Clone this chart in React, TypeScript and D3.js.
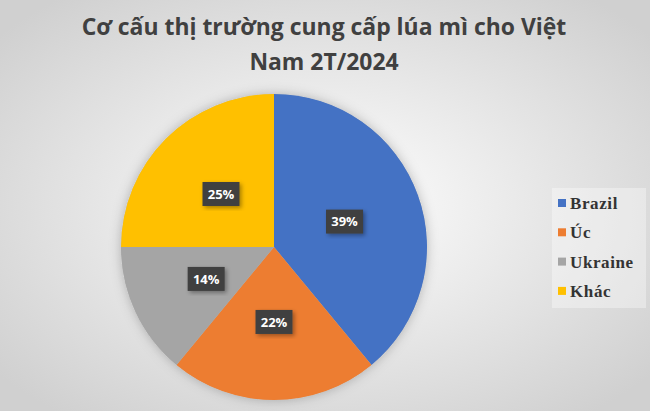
import { useEffect, useRef } from "react";
import * as d3 from "d3";

const categories = ["Brazil", "Úc", "Ukraine", "Khác"];
const shares = [39, 22, 14, 25];
const colors = ["#4472C4", "#ED7D31", "#A5A5A5", "#FFC000"];
const titleLines = ["Cơ cấu thị trường cung cấp lúa mì cho Việt", "Nam 2T/2024"];

const width = 650;
const height = 411;

function App() {
  const ref = useRef<SVGSVGElement>(null);

  useEffect(() => {
    const svg = d3.select(ref.current);
    svg.selectAll("*").remove();

    const defs = svg.append("defs");
    const bg = defs
      .append("radialGradient")
      .attr("id", "bg")
      .attr("cx", "50%")
      .attr("cy", "50%")
      .attr("r", "65%");
    bg.append("stop").attr("offset", "0%").attr("stop-color", "#ffffff");
    bg.append("stop").attr("offset", "100%").attr("stop-color", "#d0d0d0");

    const shadow = defs.append("filter").attr("id", "shadow").attr("x", "-20%").attr("y", "-20%").attr("width", "140%").attr("height", "140%");
    shadow.append("feDropShadow").attr("dx", 2).attr("dy", 2).attr("stdDeviation", 2).attr("flood-color", "#000").attr("flood-opacity", 0.35);

    const glow = defs.append("filter").attr("id", "glow").attr("x", "-20%").attr("y", "-20%").attr("width", "140%").attr("height", "140%");
    glow.append("feDropShadow").attr("dx", 0).attr("dy", 0).attr("stdDeviation", 6).attr("flood-color", "#000").attr("flood-opacity", 0.25);

    svg.append("rect").attr("width", width).attr("height", height).attr("fill", "url(#bg)");

    // title, sized so the first line spans about 485px like the original
    const title = svg
      .append("g")
      .selectAll("text")
      .data(titleLines)
      .enter()
      .append("text")
      .attr("x", 324)
      .attr("y", (_, i) => 35 + i * 35)
      .attr("text-anchor", "middle")
      .attr("font-family", "'Open Sans', Lato, sans-serif")
      .attr("font-weight", "bold")
      .attr("font-size", 22)
      .attr("fill", "#404040")
      .text((d) => d);
    const first = title.node() as SVGTextElement | null;
    if (first) {
      const w = first.getComputedTextLength();
      if (w > 0) title.attr("font-size", 22 * (485 / w));
    }

    const cx = 274;
    const cy = 247;
    const radius = 153;

    const pie = d3.pie<number>().sort(null).value((d) => d);
    const arcs = pie(shares);
    const arc = d3.arc<d3.PieArcDatum<number>>().innerRadius(0).outerRadius(radius);
    const labelArc = d3.arc<d3.PieArcDatum<number>>().innerRadius(radius * 0.49).outerRadius(radius * 0.49);

    const g = svg.append("g").attr("transform", `translate(${cx},${cy})`);
    g.append("circle").attr("r", radius).attr("fill", "#bbb").attr("filter", "url(#glow)");
    g.selectAll("path")
      .data(arcs)
      .enter()
      .append("path")
      .attr("d", arc)
      .attr("fill", (_, i) => colors[i]);

    const labels = g
      .selectAll("g.lbl")
      .data(arcs)
      .enter()
      .append("g")
      .attr("class", "lbl")
      .attr("transform", (d) => `translate(${labelArc.centroid(d)})`);
    labels
      .append("rect")
      .attr("x", -18.5)
      .attr("y", -12)
      .attr("width", 37)
      .attr("height", 24)
      .attr("fill", "#404040")
      .attr("filter", "url(#shadow)");
    labels
      .append("text")
      .attr("text-anchor", "middle")
      .attr("dy", "0.36em")
      .attr("font-family", "'Open Sans', Lato, sans-serif")
      .attr("font-weight", "bold")
      .attr("font-size", 13)
      .attr("fill", "#ffffff")
      .text((d) => `${d.data}%`);

    // legend
    const legend = svg.append("g");
    legend
      .append("rect")
      .attr("x", 552)
      .attr("y", 188)
      .attr("width", 94)
      .attr("height", 120)
      .attr("fill", "#ffffff")
      .attr("opacity", 0.35);
    const items = legend
      .selectAll("g.item")
      .data(categories)
      .enter()
      .append("g")
      .attr("class", "item")
      .attr("transform", (_, i) => `translate(558,${203 + i * 29.3})`);
    items
      .append("rect")
      .attr("x", 0)
      .attr("y", -4)
      .attr("width", 8)
      .attr("height", 8)
      .attr("fill", (_, i) => colors[i]);
    items
      .append("text")
      .attr("x", 12)
      .attr("y", 6)
      .attr("font-family", "'Liberation Serif', 'Times New Roman', serif")
      .attr("font-weight", "bold")
      .attr("font-size", 17)
      .attr("letter-spacing", 0.6)
      .attr("fill", "#333333")
      .text((d) => d);
  }, []);

  return (
    <svg
      ref={ref}
      width={width}
      height={height}
      style={{ position: "absolute", left: 0, top: 0, display: "block" }}
    />
  );
}

export default App;
